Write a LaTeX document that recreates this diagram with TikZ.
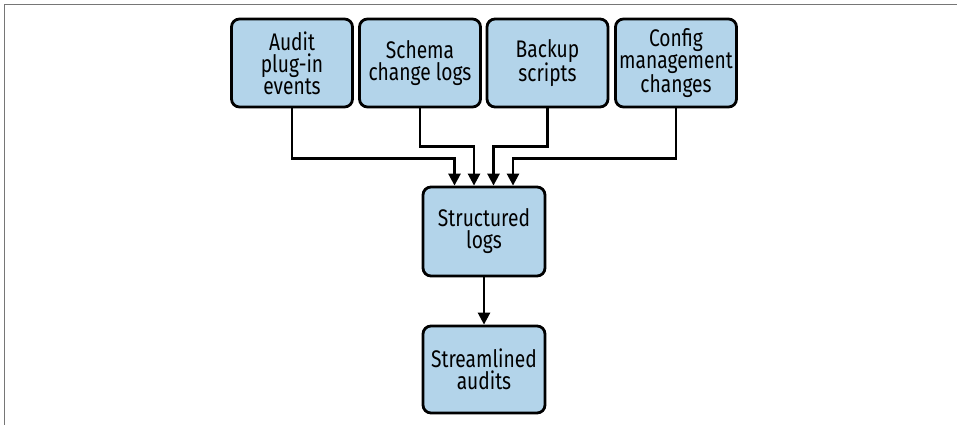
\documentclass[tikz,border=0pt]{standalone}
\usepackage{fontspec}
\setmainfont{Fira Sans}[FakeStretch=0.8]
\usetikzlibrary{arrows.meta}
\definecolor{boxblue}{HTML}{B3D4EA}
\definecolor{framegray}{HTML}{767676}
\begin{document}
\begin{tikzpicture}[x=1pt,y=-1pt,
  box/.style={draw=black, fill=boxblue, line width=2.8pt, rounded corners=8pt,
    minimum width=121pt, minimum height=88pt, inner sep=0pt, align=center,
    font=\fontsize{24}{22}\selectfont},
  conn/.style={line width=2.6pt, -{Triangle[length=12pt,width=12pt]}}]
\useasboundingbox (0,0) rectangle (957,425);
\draw[framegray, line width=1.6pt] (4.5,425) -- (4.5,4.5) -- (957,4.5);

\node[box] (a) at (292,63) {Audit\\plug-in\\events};
\node[box] (b) at (420,63) {Schema\\change logs};
\node[box] (c) at (547.5,63) {Backup\\scripts};
\node[box] (d) at (676,63) {Config\\management\\changes};
\node[box, minimum width=122pt, minimum height=89pt] (s) at (484,231.5) {Structured\\logs};
\node[box, minimum width=122pt, minimum height=87pt] (t) at (484,369.5) {Streamlined\\audits};

\draw[conn] (a.south) -- ++(0,50) -| ([xshift=-29.5pt]s.north);
\draw[conn] (b.south) -- ++(0,38) -| ([xshift=-10pt]s.north);
\draw[conn] (c.south) -- ++(0,38) -| ([xshift=9.5pt]s.north);
\draw[conn] (d.south) -- ++(0,50) -| ([xshift=29pt]s.north);
\draw[conn] (s) -- (t);
\end{tikzpicture}
\end{document}
